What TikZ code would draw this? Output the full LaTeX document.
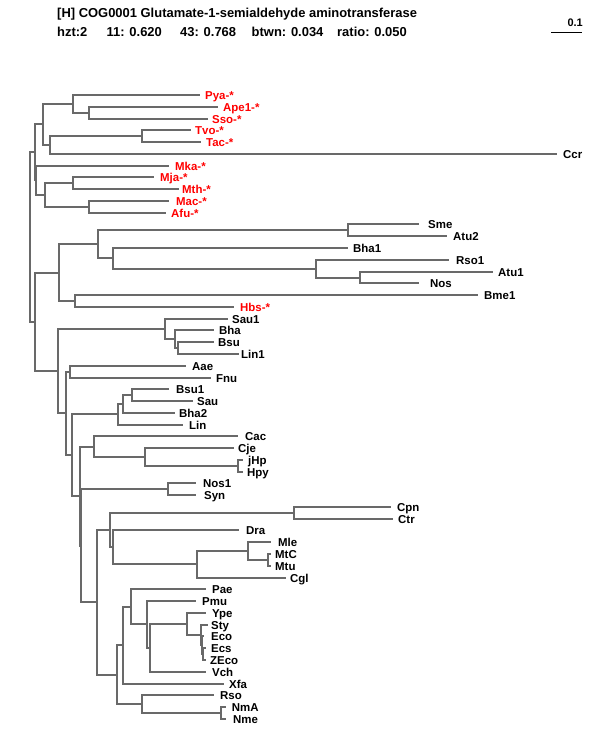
\documentclass[tikz,border=0pt]{standalone}
\usepackage{fontspec}
\setmainfont{Liberation Sans}
\definecolor{treegray}{RGB}{105,105,105}
\definecolor{archred}{RGB}{255,0,0}
\tikzset{
  br/.style={draw=treegray, line width=2bp, line cap=rect},
  lbl/.style={anchor=base west, inner sep=0pt, font=\bfseries\fontsize{11.5}{12}\selectfont},
  arch/.style={lbl, text=archred},
  head/.style={anchor=base west, inner sep=0pt, font=\bfseries\fontsize{13}{14}\selectfont},
}
% #1 name, #2 y, #3 tip x, #4 label x, #5 text, #6 style
\newcommand\leafnode[6]{\coordinate (t#1) at (#3,#2); \node[#6] (l#1) at (#4,#2+4.5) {#5};}
\begin{document}
\begin{tikzpicture}[x=1bp,y=-1bp]
\useasboundingbox (0,0) rectangle (600,750);
\fill[white] (0,0) rectangle (600,750);

% header
\node[head] (title) at (57,18) {[H] COG0001 Glutamate-1-semialdehyde aminotransferase};
\node[head] (s1) at (57,36.5) {hzt:2};
\node[head] (s2) at (106.5,36.5) {11: 0.620};
\node[head] (s3) at (180,36.5) {43: 0.768};
\node[head] (s4) at (251.5,36.5) {btwn: 0.034};
\node[head] (s5) at (337,36.5) {ratio: 0.050};
% scale bar
\coordinate (sbA) at (551,33);
\coordinate (sbB) at (582,33);
\draw[line width=1bp] (sbA) -- (sbB);
\node[anchor=base east, inner sep=0pt, font=\bfseries\fontsize{11}{12}\selectfont] (sbl) at (583,26.5) {0.1};

% leaves
\leafnode{Pya}{95}{199}{205}{Pya-*}{arch}
\leafnode{Ape1}{107}{217}{223}{Ape1-*}{arch}
\leafnode{Sso}{119}{207}{212}{Sso-*}{arch}
\leafnode{Tvo}{130}{190}{195}{Tvo-*}{arch}
\leafnode{Tac}{142}{200}{206}{Tac-*}{arch}
\leafnode{Ccr}{154}{556}{563}{Ccr}{lbl}
\leafnode{Mka}{166}{168}{175}{Mka-*}{arch}
\leafnode{Mja}{177}{153}{160}{Mja-*}{arch}
\leafnode{Mth}{189}{178}{182}{Mth-*}{arch}
\leafnode{Mac}{201}{168}{176}{Mac-*}{arch}
\leafnode{Afu}{213}{165}{171}{Afu-*}{arch}
\leafnode{Sme}{224}{418}{428}{Sme}{lbl}
\leafnode{Atu2}{236}{446}{453}{Atu2}{lbl}
\leafnode{Bha1}{248}{347}{353}{Bha1}{lbl}
\leafnode{Rso1}{260}{448}{456}{Rso1}{lbl}
\leafnode{Atu1}{272}{492}{498}{Atu1}{lbl}
\leafnode{Nos}{283}{418}{430}{Nos}{lbl}
\leafnode{Bme1}{295}{477}{484}{Bme1}{lbl}
\leafnode{Hbs}{307}{233}{240}{Hbs-*}{arch}
\leafnode{Sau1}{319}{227}{232}{Sau1}{lbl}
\leafnode{Bha}{330}{213}{219}{Bha}{lbl}
\leafnode{Bsu}{342}{213}{218}{Bsu}{lbl}
\leafnode{Lin1}{354}{238}{241}{Lin1}{lbl}
\leafnode{Aae}{366}{185}{192}{Aae}{lbl}
\leafnode{Fnu}{378}{210}{216}{Fnu}{lbl}
\leafnode{Bsu1}{389}{168}{176}{Bsu1}{lbl}
\leafnode{Sau}{401}{192}{197}{Sau}{lbl}
\leafnode{Bha2}{413}{174}{179}{Bha2}{lbl}
\leafnode{Lin}{425}{182}{189}{Lin}{lbl}
\leafnode{Cac}{436}{237}{245}{Cac}{lbl}
\leafnode{Cje}{448}{233}{238}{Cje}{lbl}
\leafnode{jHp}{460}{242}{248}{jHp}{lbl}
\leafnode{Hpy}{472}{242}{247}{Hpy}{lbl}
\leafnode{Nos1}{483}{195}{203}{Nos1}{lbl}
\leafnode{Syn}{495}{195}{204}{Syn}{lbl}
\leafnode{Cpn}{507}{390}{397}{Cpn}{lbl}
\leafnode{Ctr}{519}{392}{398}{Ctr}{lbl}
\leafnode{Dra}{530}{238}{246}{Dra}{lbl}
\leafnode{Mle}{542}{270}{278}{Mle}{lbl}
\leafnode{MtC}{554}{270}{275}{MtC}{lbl}
\leafnode{Mtu}{566}{270}{275}{Mtu}{lbl}
\leafnode{Cgl}{578}{285}{290}{Cgl}{lbl}
\leafnode{Pae}{589}{205}{212}{Pae}{lbl}
\leafnode{Pmu}{601}{195}{202}{Pmu}{lbl}
\leafnode{Ype}{613}{205}{212}{Ype}{lbl}
\leafnode{Sty}{625}{207}{211}{Sty}{lbl}
\leafnode{Eco}{636}{203}{211}{Eco}{lbl}
\leafnode{Ecs}{648}{205}{211}{Ecs}{lbl}
\leafnode{ZEco}{660}{205}{210}{ZEco}{lbl}
\leafnode{Vch}{672}{205}{212}{Vch}{lbl}
\leafnode{Xfa}{684}{223}{229}{Xfa}{lbl}
\leafnode{Rso}{695}{213}{220}{Rso}{lbl}
\leafnode{NmA}{707}{225}{231.7}{NmA}{lbl}
\leafnode{Nme}{719}{225}{233}{Nme}{lbl}

% internal nodes
\coordinate (nPya) at (73,104);
\coordinate (nApeSso) at (89,113);
\coordinate (nTvoTac) at (142,136);
\coordinate (nCcr) at (50,145);
\coordinate (nCl1) at (43,124);
\coordinate (nMjaMth) at (73,183);
\coordinate (nMacAfu) at (89,207);
\coordinate (nMjaAfu) at (45,195);
\coordinate (nCl2) at (36,180);
\coordinate (nA) at (35,152);
\coordinate (nRoot) at (30,237);
\coordinate (nB) at (35,322);
\coordinate (nU) at (59,273);
\coordinate (nSme) at (98,244);
\coordinate (nSmeAtu) at (348,230);
\coordinate (nBha1) at (113,258);
\coordinate (nRso1) at (316,269);
\coordinate (nAtuNos) at (360,278);
\coordinate (nBmeHbs) at (75,301);
\coordinate (nC) at (58,371);
\coordinate (nSau1) at (165,329);
\coordinate (nBha) at (175,339);
\coordinate (nBsuLin) at (178,348);
\coordinate (nD) at (66,413);
\coordinate (nAaeFnu) at (70,372);
\coordinate (nE) at (72,455);
\coordinate (nLin) at (118,414);
\coordinate (nBha2) at (123,404);
\coordinate (nBsuSau) at (132,395);
\coordinate (nFa) at (80,496);
\coordinate (nCac) at (94,447);
\coordinate (nCje) at (145,457);
\coordinate (nHp) at (238,466);
\coordinate (nFb) at (81,546);
\coordinate (nNosSyn) at (168,489);
\coordinate (nG) at (97,602);
\coordinate (nH) at (110,530);
\coordinate (nCpnCtr) at (294,513);
\coordinate (nDra) at (113,547);
\coordinate (nCgl) at (197,564);
\coordinate (nMle) at (248,551);
\coordinate (nMtc) at (268,560);
\coordinate (nJ) at (117,675);
\coordinate (nK) at (123,645);
\coordinate (nL) at (131,607);
\coordinate (nM) at (147,624);
\coordinate (nN) at (150,648);
\coordinate (nO) at (187,624);
\coordinate (nP) at (201,635);
\coordinate (nQ) at (202,645);
\coordinate (nR) at (203,654);
\coordinate (nS) at (142,704);
\coordinate (nNm) at (221,713);

% branches
\draw[br] (nPya) |- (tPya);   \draw[br] (nPya) |- (nApeSso);
\draw[br] (nApeSso) |- (tApe1); \draw[br] (nApeSso) |- (tSso);
\draw[br] (nTvoTac) |- (tTvo); \draw[br] (nTvoTac) |- (tTac);
\draw[br] (nCcr) |- (nTvoTac); \draw[br] (nCcr) |- (tCcr);
\draw[br] (nCl1) |- (nPya); \draw[br] (nCl1) |- (nCcr);
\draw[br] (nMjaMth) |- (tMja); \draw[br] (nMjaMth) |- (tMth);
\draw[br] (nMacAfu) |- (tMac); \draw[br] (nMacAfu) |- (tAfu);
\draw[br] (nMjaAfu) |- (nMjaMth); \draw[br] (nMjaAfu) |- (nMacAfu);
\draw[br] (nCl2) |- (tMka); \draw[br] (nCl2) |- (nMjaAfu);
\draw[br] (nA) |- (nCl1); \draw[br] (nA) |- (nCl2);
\draw[br] (nRoot) |- (nA); \draw[br] (nRoot) |- (nB);
\draw[br] (nB) |- (nU); \draw[br] (nB) |- (nC);
\draw[br] (nU) |- (nSme); \draw[br] (nU) |- (nBmeHbs);
\draw[br] (nSme) |- (nSmeAtu); \draw[br] (nSme) |- (nBha1);
\draw[br] (nSmeAtu) |- (tSme); \draw[br] (nSmeAtu) |- (tAtu2);
\draw[br] (nBha1) |- (tBha1); \draw[br] (nBha1) |- (nRso1);
\draw[br] (nRso1) |- (tRso1); \draw[br] (nRso1) |- (nAtuNos);
\draw[br] (nAtuNos) |- (tAtu1); \draw[br] (nAtuNos) |- (tNos);
\draw[br] (nBmeHbs) |- (tBme1); \draw[br] (nBmeHbs) |- (tHbs);
\draw[br] (nC) |- (nSau1); \draw[br] (nC) |- (nD);
\draw[br] (nSau1) |- (tSau1); \draw[br] (nSau1) |- (nBha);
\draw[br] (nBha) |- (tBha); \draw[br] (nBha) |- (nBsuLin);
\draw[br] (nBsuLin) |- (tBsu); \draw[br] (nBsuLin) |- (tLin1);
\draw[br] (nD) |- (nAaeFnu); \draw[br] (nD) |- (nE);
\draw[br] (nAaeFnu) |- (tAae); \draw[br] (nAaeFnu) |- (tFnu);
\draw[br] (nE) |- (nLin); \draw[br] (nE) |- (nFa);
\draw[br] (nLin) |- (nBha2); \draw[br] (nLin) |- (tLin);
\draw[br] (nBha2) |- (nBsuSau); \draw[br] (nBha2) |- (tBha2);
\draw[br] (nBsuSau) |- (tBsu1); \draw[br] (nBsuSau) |- (tSau);
\draw[br] (nFa) |- (nCac); \draw[br] (nFa) |- (nFb);
\draw[br] (nCac) |- (tCac); \draw[br] (nCac) |- (nCje);
\draw[br] (nCje) |- (tCje); \draw[br] (nCje) |- (nHp);
\draw[br] (nHp) |- (tjHp); \draw[br] (nHp) |- (tHpy);
\draw[br] (nFb) |- (nNosSyn); \draw[br] (nFb) |- (nG);
\draw[br] (nNosSyn) |- (tNos1); \draw[br] (nNosSyn) |- (tSyn);
\draw[br] (nG) |- (nH); \draw[br] (nG) |- (nJ);
\draw[br] (nH) |- (nCpnCtr); \draw[br] (nH) |- (nDra);
\draw[br] (nCpnCtr) |- (tCpn); \draw[br] (nCpnCtr) |- (tCtr);
\draw[br] (nDra) |- (tDra); \draw[br] (nDra) |- (nCgl);
\draw[br] (nCgl) |- (nMle); \draw[br] (nCgl) |- (tCgl);
\draw[br] (nMle) |- (tMle); \draw[br] (nMle) |- (nMtc);
\draw[br] (nMtc) |- (tMtC); \draw[br] (nMtc) |- (tMtu);
\draw[br] (nJ) |- (nK); \draw[br] (nJ) |- (nS);
\draw[br] (nK) |- (nL); \draw[br] (nK) |- (tXfa);
\draw[br] (nL) |- (tPae); \draw[br] (nL) |- (nM);
\draw[br] (nM) |- (tPmu); \draw[br] (nM) |- (nN);
\draw[br] (nN) |- (nO); \draw[br] (nN) |- (tVch);
\draw[br] (nO) |- (tYpe); \draw[br] (nO) |- (nP);
\draw[br] (nP) |- (tSty); \draw[br] (nP) |- (nQ);
\draw[br] (nQ) |- (tEco); \draw[br] (nQ) |- (nR);
\draw[br] (nR) |- (tEcs); \draw[br] (nR) |- (tZEco);
\draw[br] (nS) |- (tRso); \draw[br] (nS) |- (nNm);
\draw[br] (nNm) |- (tNmA); \draw[br] (nNm) |- (tNme);
\end{tikzpicture}
\end{document}
